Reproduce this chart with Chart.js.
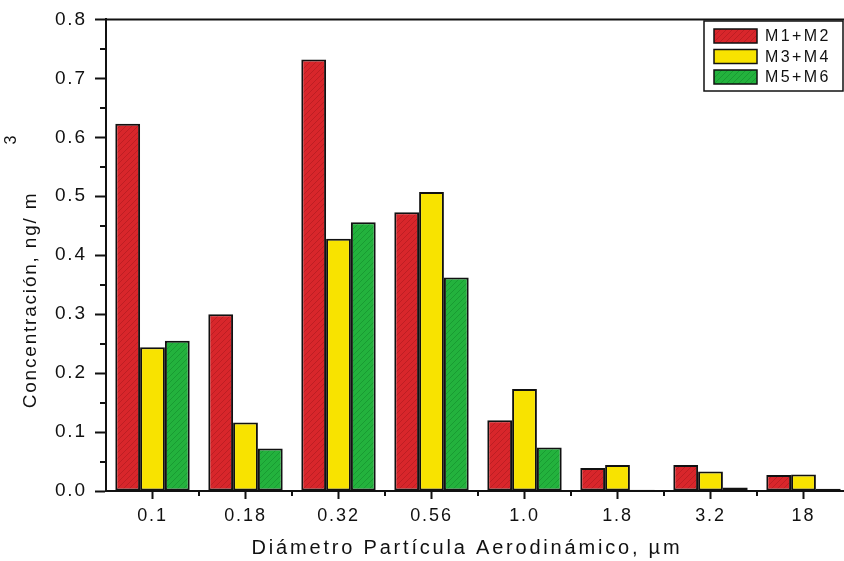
<!DOCTYPE html>
<html>
<head>
<meta charset="utf-8">
<script src="https://cdn.jsdelivr.net/npm/chart.js@4/dist/chart.umd.min.js"></script>
<style>
  html, body { margin: 0; padding: 0; background: #fff; overflow: hidden; }
  #wrap { width: 852px; height: 561px; position: relative; }
</style>
</head>
<body>
<div id="wrap"><canvas id="chart"></canvas></div>
<script>
// particle size classes (µm) and concentrations in ng/m3
const sizes = ["0.1", "0.18", "0.32", "0.56", "1.0", "1.8", "3.2", "18"];
const m1m2 = [0.623, 0.300, 0.732, 0.473, 0.120, 0.039, 0.044, 0.027];
const m3m4 = [0.244, 0.116, 0.428, 0.507, 0.173, 0.044, 0.033, 0.028];
const m5m6 = [0.255, 0.072, 0.456, 0.362, 0.074, 0.002, 0.006, 0.004];
const yTicks = [0, 0.1, 0.2, 0.3, 0.4, 0.5, 0.6, 0.7, 0.8];

const FONT = "'Liberation Sans', Arial, sans-serif";

// little hatched fill, like the printed bars
const hatch = (base, streak) => {
	const c = document.createElement("canvas");
	c.width = 6;
	c.height = 6;
	const g = c.getContext("2d");
	g.fillStyle = base;
	g.fillRect(0, 0, 6, 6);
	g.strokeStyle = streak;
	g.lineWidth = 1;
	g.beginPath();
	g.moveTo(0, 6);
	g.lineTo(6, 0);
	g.moveTo(-3, 3);
	g.lineTo(3, -3);
	g.moveTo(3, 9);
	g.lineTo(9, 3);
	g.stroke();
	return g.createPattern(c, "repeat");
};

const redFill = hatch("#d8262b", "rgba(150,20,25,0.4)");
const yellowFill = "#f8e300";
const greenFill = hatch("#23b23d", "rgba(10,120,35,0.4)");

const extras = {
	id: "extras",
	beforeDraw(chart) {
		chart.ctx.letterSpacing = "1.9px";
	},
	afterDraw(chart) {
		const ctx = chart.ctx;
		const x = chart.scales.x;
		const y = chart.scales.y;
		const area = chart.chartArea;
		ctx.save();
		ctx.letterSpacing = "0px";
		ctx.strokeStyle = "#111";
		ctx.lineWidth = 2;
		ctx.beginPath();
		// top frame line
		ctx.moveTo(area.left - 1, area.top);
		ctx.lineTo(area.right + 2, area.top);
		// minor y ticks
		for (let v = 0.05; v < 0.8; v += 0.1) {
			const py = Math.round(y.getPixelForValue(v));
			ctx.moveTo(area.left - 6, py);
			ctx.lineTo(area.left, py);
		}
		// minor x ticks between groups
		for (let i = 0; i < sizes.length; i++) {
			const px = (x.getPixelForValue(i) + x.getPixelForValue(i + 1)) / 2;
			ctx.moveTo(px, area.bottom);
			ctx.lineTo(px, area.bottom + 5);
		}
		ctx.stroke();

		// axis titles
		ctx.fillStyle = "#111";
		ctx.font = "20px " + FONT;
		ctx.letterSpacing = "2.8px";
		ctx.textAlign = "center";
		ctx.textBaseline = "middle";
		ctx.fillText("Diámetro Partícula Aerodinámico, µm", 467, 548);

		ctx.save();
		ctx.translate(31, 300);
		ctx.rotate(-Math.PI / 2);
		ctx.font = "19px " + FONT;
		ctx.letterSpacing = "1.8px";
		ctx.fillText("Concentración, ng/ m", 0, 0);
		ctx.restore();
		ctx.save();
		ctx.translate(12, 140);
		ctx.rotate(-Math.PI / 2);
		ctx.font = "16px " + FONT;
		ctx.letterSpacing = "0px";
		ctx.fillText("3", 0, 0);
		ctx.restore();

		// legend box in the upper right corner
		const bx = 704, by = 21, bw = 139, bh = 70;
		ctx.fillStyle = "#fff";
		ctx.fillRect(bx, by, bw, bh);
		ctx.lineWidth = 1.5;
		ctx.strokeRect(bx, by, bw, bh);
		ctx.font = "16px " + FONT;
		ctx.letterSpacing = "2.4px";
		ctx.textAlign = "left";
		chart.data.datasets.forEach((ds, i) => {
			const cy = by + 15 + i * 20.5;
			ctx.fillStyle = ds.backgroundColor;
			ctx.fillRect(bx + 10, cy - 7, 43, 14);
			ctx.strokeRect(bx + 10, cy - 7, 43, 14);
			ctx.fillStyle = "#111";
			ctx.fillText(ds.label, bx + 61, cy + 1);
		});
		ctx.restore();
	},
};

new Chart(document.getElementById("chart"), {
	type: "bar",
	data: {
		labels: sizes,
		datasets: [
			{ label: "M1+M2", data: m1m2, backgroundColor: redFill },
			{ label: "M3+M4", data: m3m4, backgroundColor: yellowFill },
			{ label: "M5+M6", data: m5m6, backgroundColor: greenFill },
		],
	},
	options: {
		responsive: true,
		maintainAspectRatio: false,
		animation: false,
		layout: { padding: { top: 16, right: 2, left: 0, bottom: 0 } },
		datasets: {
			bar: {
				borderColor: "#111",
				borderWidth: 2,
				borderSkipped: false,
				categoryPercentage: 0.8,
				barPercentage: 1.0,
			},
		},
		scales: {
			x: {
				grid: {
					drawOnChartArea: false,
					offset: false,
					tickLength: 8,
					tickWidth: 2,
					tickColor: "#111",
				},
				border: { color: "#111", width: 2 },
				ticks: {
					color: "#111",
					padding: 6,
					maxRotation: 0,
					font: { family: FONT, size: 18 },
				},
				afterFit: (s) => {
					s.height = 70;
				},
			},
			y: {
				min: 0,
				max: 0.8,
				grid: {
					drawOnChartArea: false,
					tickLength: 11,
					tickWidth: 2,
					tickColor: "#111",
				},
				border: { color: "#111", width: 2 },
				afterBuildTicks: (s) => {
					s.ticks = yTicks.map((v) => ({ value: v }));
				},
				ticks: {
					color: "#111",
					padding: 8,
					font: { family: FONT, size: 19 },
					callback: (v) => v.toFixed(1),
				},
				afterFit: (s) => {
					s.width = 106;
				},
			},
		},
		plugins: {
			legend: { display: false },
			tooltip: { enabled: false },
		},
	},
	plugins: [extras],
});
</script>
</body>
</html>
